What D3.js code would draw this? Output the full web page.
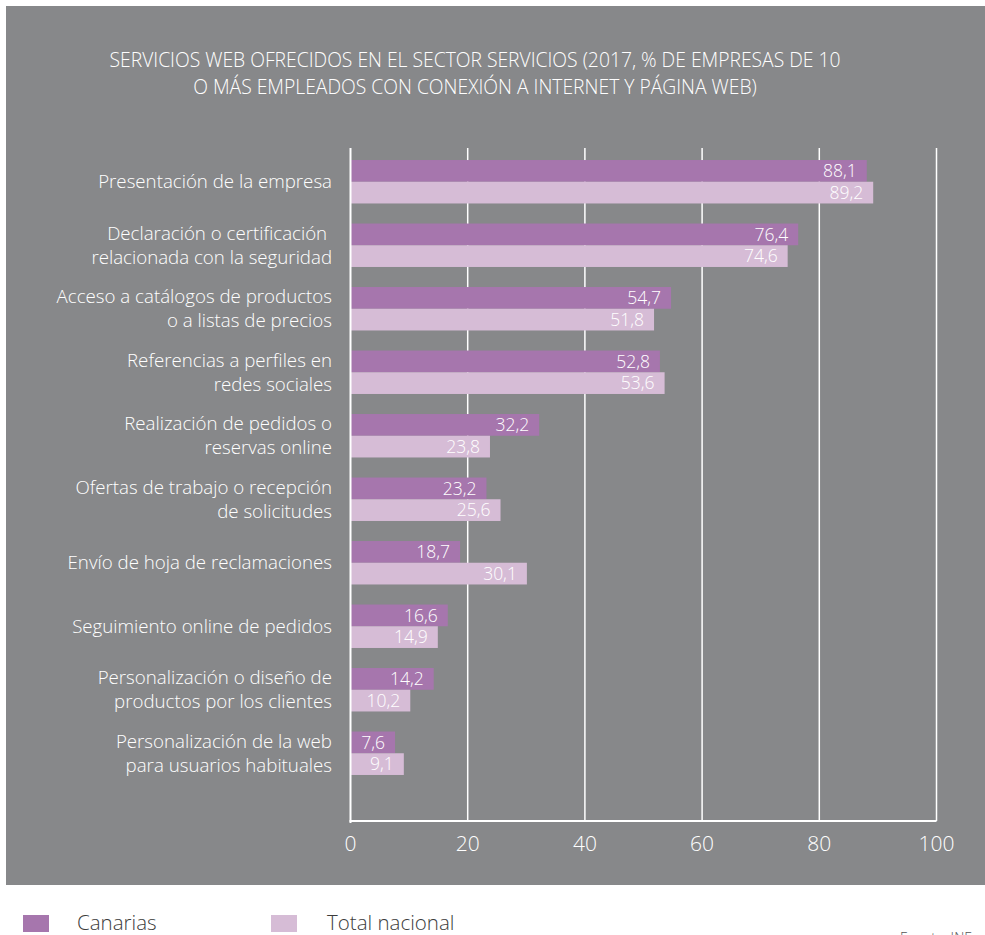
<!DOCTYPE html>
<html>
<head>
<meta charset="utf-8">
<script src="https://cdn.jsdelivr.net/npm/d3@7"></script>
<style>
  html, body { margin: 0; padding: 0; background: #ffffff; }
  svg { display: block; }
  text { font-family: "Open Sans", Lato, sans-serif; font-weight: 300; }
</style>
</head>
<body>
<svg id="chart" width="985" height="935"></svg>
<script>
const categories = [
  ["Presentación de la empresa"],
  ["Declaración o certificación ", "relacionada con la seguridad"],
  ["Acceso a catálogos de productos", "o a listas de precios"],
  ["Referencias a perfiles en", "redes sociales"],
  ["Realización de pedidos o", "reservas online"],
  ["Ofertas de trabajo o recepción", "de solicitudes"],
  ["Envío de hoja de reclamaciones"],
  ["Seguimiento online de pedidos"],
  ["Personalización o diseño de", "productos por los clientes"],
  ["Personalización de la web", "para usuarios habituales"]
];
const seriesNames = ["Canarias", "Total nacional"];
const canarias = [88.1, 76.4, 54.7, 52.8, 32.2, 23.2, 18.7, 16.6, 14.2, 7.6];
const totalNacional = [89.2, 74.6, 51.8, 53.6, 23.8, 25.6, 30.1, 14.9, 10.2, 9.1];
const xTicks = [0, 20, 40, 60, 80, 100];
const titleLines = [
  "SERVICIOS WEB OFRECIDOS EN EL SECTOR SERVICIOS (2017, % DE EMPRESAS DE 10",
  "O MÁS EMPLEADOS CON CONEXIÓN A INTERNET Y PÁGINA WEB)"
];
const source = "Fuente: INE";

const colors = ["#a676ad", "#d6bcd6"];
const bg = "#87888a";

const svg = d3.select("#chart");

svg.append("rect").attr("x", 6).attr("y", 6).attr("width", 985).attr("height", 879).attr("fill", bg);

svg.append("g").selectAll("text").data(titleLines).join("text")
  .attr("x", 475).attr("y", (d, i) => 67 + i * 26.5)
  .attr("text-anchor", "middle").attr("fill", "#ffffff")
  .attr("font-size", 19.3).text(d => d);

const keys = categories.map((c, i) => i);
const x = d3.scaleLinear().domain([0, 100]).range([350.5, 936.5]);
const y = d3.scaleBand().domain(keys).range([150, 785]).paddingInner(0.316).paddingOuter(0.158);
const ySub = d3.scaleBand().domain([0, 1]).range([0, y.bandwidth()]);

const plotTop = 148, plotBottom = 821;
svg.append("g").selectAll("line").data(xTicks.slice(1)).join("line")
  .attr("x1", d => x(d)).attr("x2", d => x(d))
  .attr("y1", plotTop).attr("y2", plotBottom)
  .attr("stroke", "#ffffff").attr("stroke-width", 1.5);

const data = keys.map(i => ({ i, vals: [canarias[i], totalNacional[i]] }));
const groups = svg.append("g").selectAll("g").data(data).join("g")
  .attr("transform", d => `translate(0,${y(d.i)})`);

groups.selectAll("rect").data(d => d.vals.map((v, s) => ({ v, s }))).join("rect")
  .attr("x", x(0)).attr("y", d => ySub(d.s))
  .attr("width", d => x(d.v) - x(0)).attr("height", ySub.bandwidth())
  .attr("fill", d => colors[d.s]);

groups.selectAll("text.val").data(d => d.vals.map((v, s) => ({ v, s }))).join("text")
  .attr("class", "val")
  .attr("x", d => x(d.v) - 10).attr("y", d => ySub(d.s) + ySub.bandwidth() / 2)
  .attr("dy", "0.36em").attr("text-anchor", "end")
  .attr("fill", "#ffffff").attr("font-size", 17.5)
  .text(d => d3.format(".1f")(d.v).replace(".", ","));

svg.append("line").attr("x1", x(0)).attr("x2", x(0)).attr("y1", plotTop).attr("y2", plotBottom + 2)
  .attr("stroke", "#ffffff").attr("stroke-width", 2);
svg.append("line").attr("x1", x(0) - 1).attr("x2", x(100)).attr("y1", plotBottom).attr("y2", plotBottom)
  .attr("stroke", "#ffffff").attr("stroke-width", 2);

svg.append("g").selectAll("text").data(xTicks).join("text")
  .attr("x", d => x(d)).attr("y", 851)
  .attr("text-anchor", "middle").attr("fill", "#ffffff").attr("font-size", 21)
  .text(d => d);

const cat = svg.append("g").selectAll("text").data(data).join("text")
  .attr("text-anchor", "end").attr("fill", "#ffffff").attr("font-size", 18.7)
  .attr("style", "white-space: pre")
  .attr("transform", d => `translate(332,${y(d.i) + y.bandwidth() / 2})`);
cat.selectAll("tspan").data(d => categories[d.i].map((t, k, arr) => ({ t, k, n: arr.length }))).join("tspan")
  .attr("x", 0)
  .attr("y", d => (d.k - (d.n - 1) / 2) * 24)
  .attr("dy", "0.36em")
  .text(d => d.t);

const leg = svg.append("g").selectAll("g").data(seriesNames).join("g")
  .attr("transform", (d, i) => `translate(${i === 0 ? 23 : 271},0)`);
leg.append("rect").attr("x", 0).attr("y", 915).attr("width", 26).attr("height", 17)
  .attr("fill", (d, i) => colors[i]);
leg.append("text").attr("x", (d, i) => i === 0 ? 54 : 56).attr("y", 930).attr("fill", "#3c3c3c").attr("font-size", 20.5)
  .text(d => d);

svg.append("text").attr("x", 900).attr("y", 943).attr("fill", "#555555").attr("font-size", 14).text(source);
</script>
</body>
</html>
